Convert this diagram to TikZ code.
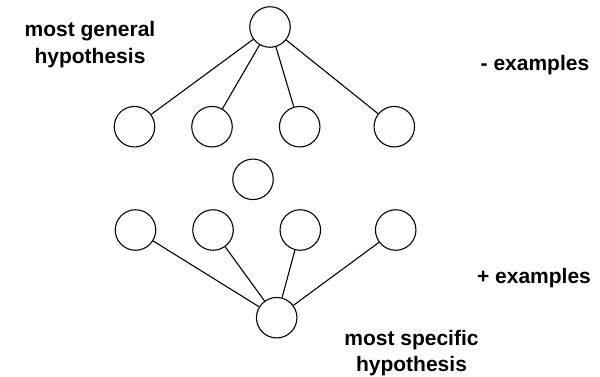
\documentclass[tikz,border=0pt]{standalone}
\usepackage{fontspec}
\setmainfont{Liberation Sans}
\usepackage{tikz}

\begin{document}
\begin{tikzpicture}[x=1pt,y=-1pt]
      \tikzstyle{hyp}=[draw, circle, line width=1.1pt, minimum size=40.5pt, inner sep=0pt]
      \tikzstyle{lbl}=[inner sep=0pt, align=center, font=\fontsize{21}{26.5}\selectfont\bfseries]
      \useasboundingbox (0,0) rectangle (600,376);
      \node [hyp] (g) at (270,27) {};
      \node [hyp] (g1) at (134.5,126.7) {};
      \node [hyp] (g2) at (212,126.7) {};
      \node [hyp] (g3) at (299.7,126.7) {};
      \node [hyp] (g4) at (394.3,126.7) {};
      \node [hyp] (m) at (253,179.3) {};
      \node [hyp] (s1) at (135.5,230) {};
      \node [hyp] (s2) at (213,230) {};
      \node [hyp] (s3) at (300.3,230) {};
      \node [hyp] (s4) at (395.7,230) {};
      \node [hyp] (s) at (276.7,317.7) {};
      \draw [line width=1.1pt] (g) -- (g1);
      \draw [line width=1.1pt] (g) -- (g2);
      \draw [line width=1.1pt] (g) -- (g3);
      \draw [line width=1.1pt] (g) -- (g4);
      \draw [line width=1.1pt] (s1) -- (s);
      \draw [line width=1.1pt] (s2) -- (s);
      \draw [line width=1.1pt] (s3) -- (s);
      \draw [line width=1.1pt] (s4) -- (s);
      % two-line labels: base is the last line
      \node [lbl, anchor=base] (gen) at (90,63.2) {most general\\hypothesis};
      \node [lbl, anchor=base] (neg) at (535,70) {- examples};
      \node [lbl, anchor=base] (pos) at (534,283) {+ examples};
      \node [lbl, anchor=base] (spec) at (411.5,371.7) {most specific\\hypothesis};
      \end{tikzpicture}
\end{document}
